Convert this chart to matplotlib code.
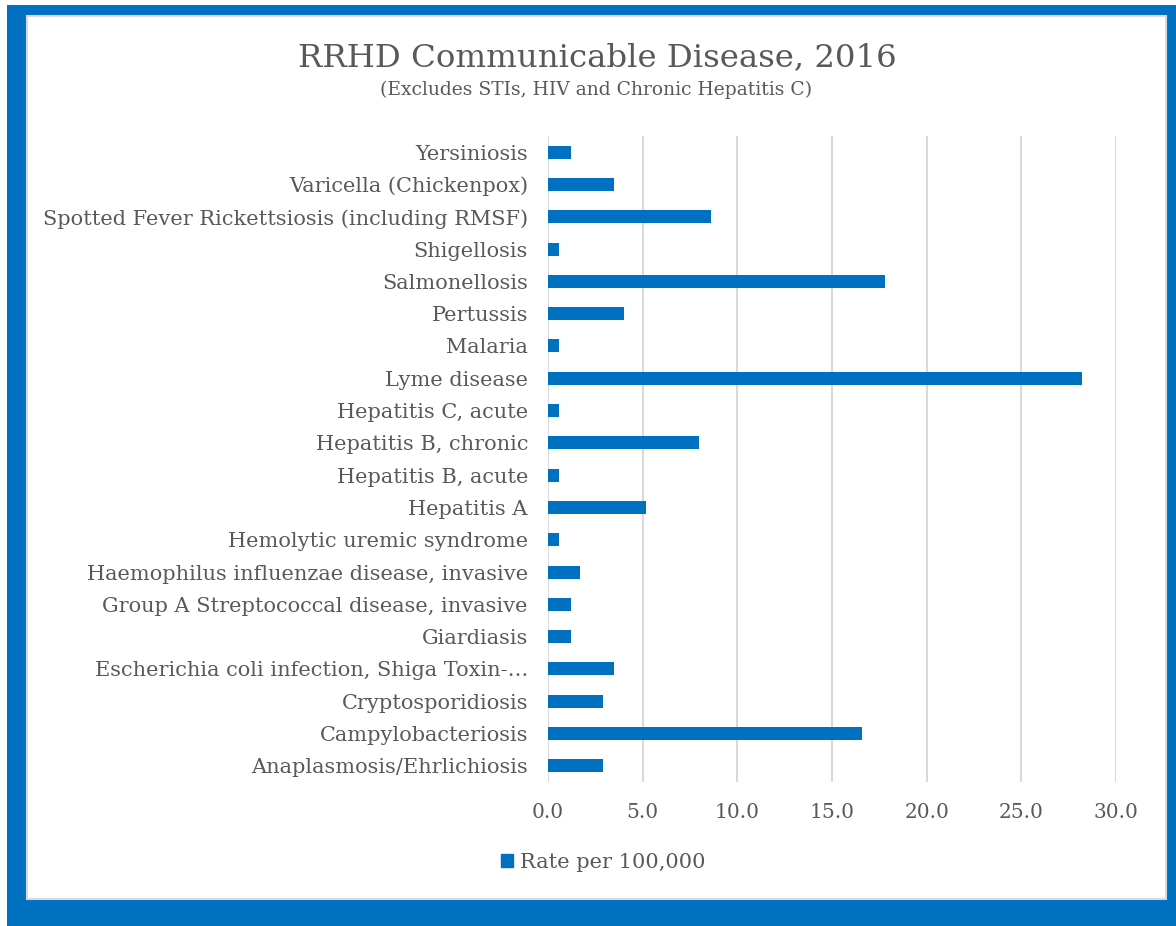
import matplotlib
matplotlib.use('Agg')
import matplotlib.pyplot as plt
import matplotlib.patches as patch
import numpy as np

# ---------- data (bottom to top as Excel draws it) ----------
diseases = ['Anaplasmosis/Ehrlichiosis', 'Campylobacteriosis', 'Cryptosporidiosis',
            'Escherichia coli infection, Shiga Toxin-\u2026', 'Giardiasis',
            'Group A Streptococcal disease, invasive', 'Haemophilus influenzae disease, invasive',
            'Hemolytic uremic syndrome', 'Hepatitis A', 'Hepatitis B, acute',
            'Hepatitis B, chronic', 'Hepatitis C, acute', 'Lyme disease', 'Malaria',
            'Pertussis', 'Salmonellosis', 'Shigellosis',
            'Spotted Fever Rickettsiosis (including RMSF)', 'Varicella (Chickenpox)', 'Yersiniosis']
rates = [2.9, 16.6, 2.9, 3.5, 1.2, 1.2, 1.7, 0.6, 5.2, 0.6,
         8.0, 0.6, 28.2, 0.6, 4.0, 17.8, 0.6, 8.6, 3.5, 1.2]
xticks = [0, 5, 10, 15, 20, 25, 30]

blue = '#0070C0'
grey_txt = '#595959'
serif = ['DejaVu Serif']

W, H = 1176, 926
fig = plt.figure(figsize=(W / 100, H / 100), dpi=100)
fig.set_facecolor('white')

#--- blue frame + white card
fig.patches.append(patch.Rectangle((7 / W, 0), 1, 1 - 5 / H, transform=fig.transFigure,
                                   facecolor=blue, edgecolor='none', zorder=0))
fig.patches.append(patch.Rectangle((27 / W, 1 - 899 / H), (1166 - 27) / W, (899 - 16) / H,
                                   transform=fig.transFigure, facecolor='white',
                                   edgecolor='#d9d9d9', lw=1.5, zorder=1))

ax = fig.add_axes([548 / W, 1 - 782 / H, (1116 - 548) / W, (782 - 136) / H])
ax.set_zorder(3)
ax.set_facecolor('none')
ypos = np.arange(len(diseases))
ax.barh(ypos, rates, height=0.4, color=blue, zorder=3, label='Rate per 100,000')

ax.set_xlim(0, 30)
ax.set_ylim(-0.5, len(diseases) - 0.5)
ax.set_xticks(xticks)
ax.set_xticklabels(['%.1f' % v for v in xticks], family=serif, fontsize=14.5, color=grey_txt)
ax.set_yticks(ypos)
ax.set_yticklabels(diseases, family=serif, fontsize=15, color=grey_txt)
ax.tick_params(axis='both', length=0)
ax.tick_params(axis='y', pad=14.4)
ax.tick_params(axis='x', pad=15)
ax.grid(axis='x', color='#d9d9d9', lw=1.5, zorder=0)
for s in ax.spines.values():
    s.set_visible(False)

#--- titles
fig.text(597 / W, 1 - 58 / H, 'RRHD Communicable Disease, 2016', ha='center', va='center',
         family=serif, fontsize=23.3, color=grey_txt, zorder=4)
fig.text(596 / W, 1 - 90 / H, '(Excludes STIs, HIV and Chronic Hepatitis C)', ha='center',
         va='center', family=serif, fontsize=13.5, color=grey_txt, zorder=4)

#--- legend
leg = fig.legend(handles=[patch.Patch(color=blue, label='Rate per 100,000')],
                 loc='center', bbox_to_anchor=(603 / W, 1 - 862 / H), frameon=False,
                 handlelength=0.6, handleheight=0.6, handletextpad=0.3,
                 prop={'family': serif, 'size': 15})
leg.set_zorder(4)
for t in leg.get_texts():
    t.set_color(grey_txt)

fig.savefig('out.png', dpi=100)
